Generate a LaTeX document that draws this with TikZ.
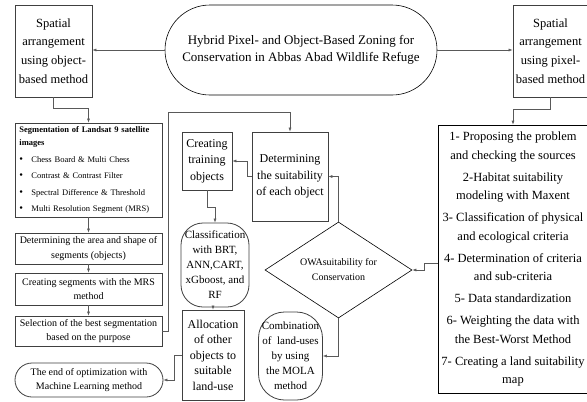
\documentclass[tikz,border=0pt]{standalone}
\usepackage{fontspec}
\setmainfont{Liberation Serif}
\usetikzlibrary{arrows.meta,shapes.geometric,calc}
\newcommand{\blt}{\makebox[12pt][l]{\raisebox{0.2pt}{\fontsize{10.5}{13}\selectfont\textbullet}}}
\begin{document}
\begin{tikzpicture}[x=1pt,y=-1pt,
  box/.style={draw=black!75, line width=0.8pt, inner sep=0pt, align=center},
  thinbox/.style={draw=black, line width=0.6pt, inner sep=0pt, align=center},
  conn/.style={draw=black!65, line width=0.6pt, -{Latex[length=4pt,width=3pt]}},
  bigtxt/.style={font=\fontsize{12.5}{18.7}\selectfont},
  midtxt/.style={font=\fontsize{10}{14.5}\selectfont},
 ]
\useasboundingbox (0,0) rectangle (587,402);
\fill[white] (0,0) rectangle (587,402);

% top row
\node[box, minimum width=77, minimum height=92, bigtxt] (objbox) at (53.5,51)
  {Spatial\\arrangement\\using object-\\based method};
\node[thinbox, rounded corners=45, minimum width=272, minimum height=90,
  font=\fontsize{13}{16.5}\selectfont] (title) at (301,50)
  {Hybrid Pixel- and Object-Based Zoning for\\Conservation in Abbas Abad Wildlife Refuge};
\node[box, minimum width=75, minimum height=92, bigtxt] (pixbox) at (550.5,51)
  {Spatial\\arrangement\\using pixel-\\based method};

% left column
\node[box, minimum width=147, minimum height=94, text width=138, align=left,
  inner xsep=4.5pt, font=\fontsize{8.5}{13}\selectfont] (seg) at (88.5,170)
  {\textbf{Segmentation of Landsat 9 satellite}\\\textbf{images}\\[4pt]
   \blt Chess Board \& Multi Chess\\[3.5pt]
   \blt Contrast \& Contrast Filter\\[3.5pt]
   \blt Spectral Difference \& Threshold\\[3.5pt]
   \blt Multi Resolution Segment (MRS)};
\node[box, minimum width=147, minimum height=31, midtxt] (area) at (88.5,248.5)
  {Determining the area and shape of\\segments (objects)};
\node[box, minimum width=147, minimum height=32, midtxt] (mrs) at (88.5,289)
  {Creating segments with the MRS\\method};
\node[box, minimum width=147, minimum height=30, midtxt] (sel) at (88.5,331)
  {Selection of the best segmentation\\based on the purpose};
\node[box, rounded corners=17, minimum width=148, minimum height=34, midtxt] (endn) at (89,380)
  {The end of optimization with\\Machine Learning method};

% middle
\node[box, minimum width=50, minimum height=58, font=\fontsize{12}{16.5}\selectfont] (train) at (207,161)
  {Creating\\training\\objects};
\node[box, minimum width=76, minimum height=89, font=\fontsize{12}{16.5}\selectfont] (suit) at (290,176.5)
  {Determining\\the suitability\\of each object};
\node[box, rounded corners=22, minimum width=68, minimum height=84, font=\fontsize{11}{15}\selectfont] (class) at (215,265)
  {Classification\\with BRT,\\ANN,CART,\\xGboost, and\\RF};
\node[box, minimum width=62, minimum height=90, font=\fontsize{12}{15.5}\selectfont] (alloc) at (213,355)
  {Allocation\\of other\\objects to\\suitable\\land-use};
\node[box, rounded corners=26, minimum width=64, minimum height=88, font=\fontsize{11}{15}\selectfont] (comb) at (290.5,356)
  {Combination\\of~ land-uses\\by using\\the MOLA\\method};
\node[thinbox, diamond, aspect=1.53, minimum width=147, minimum height=96,
  font=\fontsize{10}{15}\selectfont] (owa) at (338.5,270)
  {OWAsuitability for\\Conservation};

% right column
\node[thinbox, minimum width=150, minimum height=268, font=\fontsize{12.5}{18.5}\selectfont] (steps) at (513,259)
  {1- Proposing the problem\\and checking the sources\\[3.5pt]
   2-Habitat suitability\\modeling with Maxent\\[3.5pt]
   3- Classification of physical\\and ecological criteria\\[3.5pt]
   4- Determination of criteria\\and sub-criteria\\[3.5pt]
   5- Data standardization\\[3.5pt]
   6- Weighting the data with\\the Best-Worst Method\\[3.5pt]
   7- Creating a land suitability\\map};

% connectors
\draw[conn] (title.west) -- (title.west -| objbox.east);
\draw[conn] (title.east) -- (title.east -| pixbox.west);
\draw[conn] (objbox.south) -- ++(0,11) -| (seg.north);
\draw[conn] (pixbox.south) -- ++(0,12) -| (steps.north);
\draw[conn] (seg.south) -- (area.north);
\draw[conn] (area.south) -- (mrs.north);
\draw[conn] (mrs.south) -- (sel.north);
\draw[conn] (sel.east) -- ++(6,0) |- ($(suit.north)+(0,-19)$) -- (suit.north);
\draw[conn] (suit.west) -- ++(-4,0) |- (train.east);
\draw[conn] (train.south) -- ++(0,17) -| (class.north);
\draw[conn] (class.south -| alloc.north) -- (alloc.north);
\draw[conn] (alloc.west) -- ++(-7,0) |- (endn.east);
\draw[conn] ($(steps.west)+(0,4)$) -- ++(-13,0) |- (owa.east);
\draw[conn] (owa.north) |- (suit.east);
\draw[conn] (owa.south) |- (comb.east);
\end{tikzpicture}
\end{document}
